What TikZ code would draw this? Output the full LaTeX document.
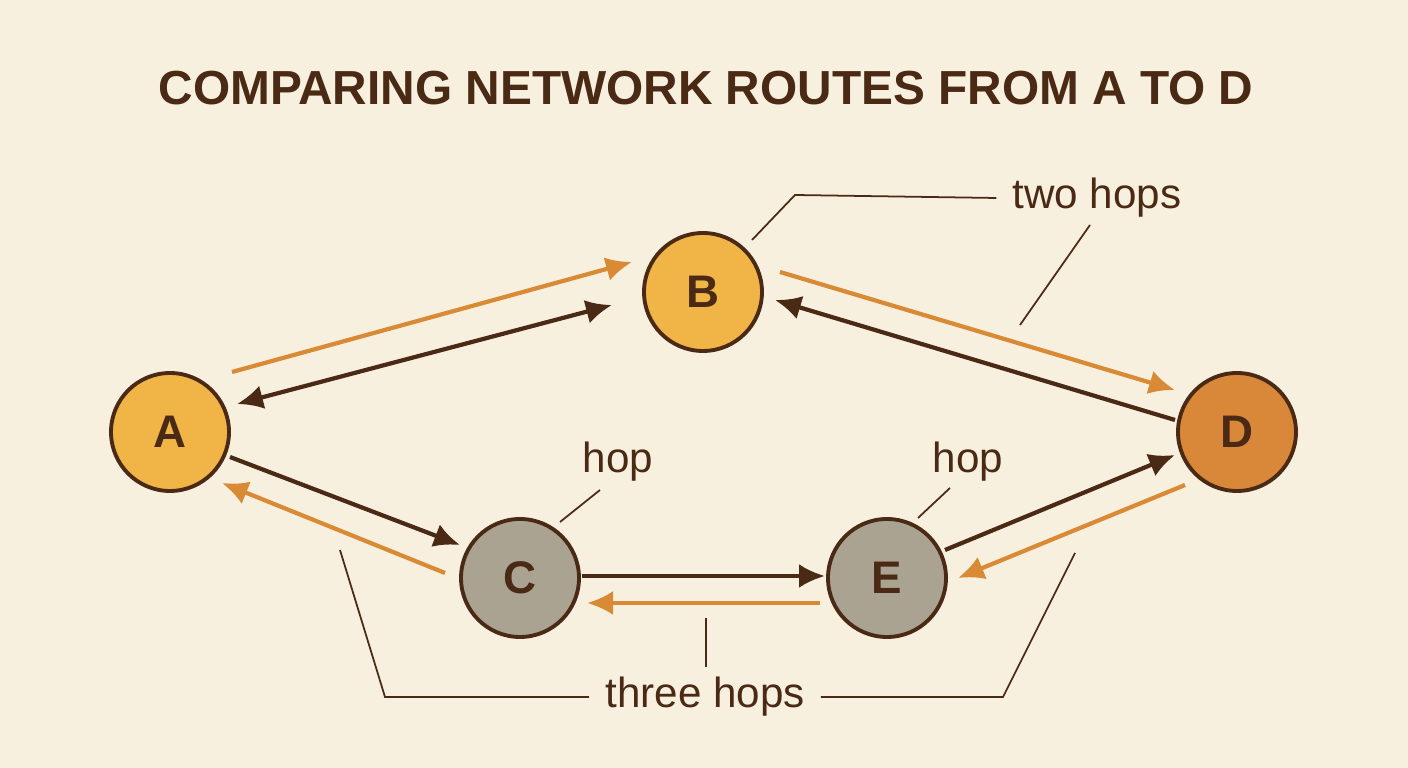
\documentclass[tikz,border=0pt]{standalone}
\usepackage{fontspec}
\setmainfont{Liberation Sans}
\usetikzlibrary{arrows.meta}
\definecolor{bg}{HTML}{F8F0DF}
\definecolor{ink}{HTML}{4A2A14}
\definecolor{route}{HTML}{D98A35}
\definecolor{gold}{HTML}{F0B447}
\definecolor{rust}{HTML}{D9883A}
\definecolor{stone}{HTML}{ABA391}
\tikzset{
  host/.style={circle, draw=ink, line width=1.1pt, minimum size=1.18cm, inner sep=0pt, font=\bfseries\fontsize{13}{13}\selectfont, text=ink},
  fwd/.style={-{Latex[length=2.6mm,width=2.4mm]}, line width=1.2pt, route},
  back/.style={-{Latex[length=2.6mm,width=2.4mm]}, line width=1.2pt, ink},
  call/.style={ink, line width=0.5pt},
  lbl/.style={text=ink, font=\fontsize{12}{12}\selectfont, inner sep=1pt}
}
\begin{document}
\begin{tikzpicture}
  \fill[bg] (0,0) rectangle (14.08,7.68);
  \useasboundingbox (0,0) rectangle (14.08,7.68);
  \node[text=ink, font=\bfseries\fontsize{13.6}{13.6}\selectfont] (title) at (7.06,6.80) {COMPARING NETWORK ROUTES FROM A TO D};
  % hosts
  \node[host, fill=gold] (A) at (1.70,3.36) {A};
  \node[host, fill=gold] (B) at (7.03,4.76) {B};
  \node[host, fill=rust] (D) at (12.37,3.36) {D};
  \node[host, fill=stone] (C) at (5.20,1.90) {C};
  \node[host, fill=stone] (E) at (8.87,1.90) {E};
  % upper route
  \draw[fwd] ([shift={(0.62,0.60)}]A.center) -- ([shift={(-0.71,0.30)}]B.center);
  \draw[back, {Latex[length=2.6mm,width=2.4mm]}-{Latex[length=2.6mm,width=2.4mm]}] ([shift={(0.67,0.28)}]A.center) -- ([shift={(-0.91,-0.13)}]B.center);
  \draw[fwd] ([shift={(0.77,0.20)}]B.center) -- ([shift={(-0.62,0.42)}]D.center);
  \draw[back] ([shift={(-0.62,0.12)}]D.center) -- ([shift={(0.72,-0.08)}]B.center);
  % lower route
  \draw[back] ([shift={(0.60,-0.25)}]A.center) -- ([shift={(-0.60,0.33)}]C.center);
  \draw[fwd] ([shift={(-0.75,0.05)}]C.center) -- ([shift={(0.52,-0.51)}]A.center);
  \draw[back] ([shift={(0.62,0.02)}]C.center) -- ([shift={(-0.62,0.02)}]E.center);
  \draw[fwd] ([shift={(-0.67,-0.25)}]E.center) -- ([shift={(0.67,-0.25)}]C.center);
  \draw[back] ([shift={(0.58,0.28)}]E.center) -- ([shift={(-0.62,-0.23)}]D.center);
  \draw[fwd] ([shift={(-0.52,-0.53)}]D.center) -- ([shift={(0.71,0.00)}]E.center);
  % callouts
  \node[lbl] (two) at (10.97,5.70) {two hops};
  \draw[call] ([shift={(0.49,0.52)}]B.center) -- (7.95,5.73) -- ([xshift=-0.12cm]two.west);
  \draw[call] (10.90,5.43) -- (10.20,4.43);
  \node[lbl] (hopC) at (6.18,3.06) {hop};
  \draw[call] (5.60,2.46) -- (6.00,2.78);
  \node[lbl] (hopE) at (9.68,3.06) {hop};
  \draw[call] (9.18,2.50) -- (9.50,2.80);
  \node[lbl] (three) at (7.05,0.71) {three hops};
  \draw[call] (3.40,2.18) -- (3.85,0.71) -- ([xshift=-0.12cm]three.west);
  \draw[call] ([xshift=0.12cm]three.east) -- (10.03,0.71) -- (10.75,2.15);
  \draw[call] (7.06,1.50) -- (7.06,1.01);
\end{tikzpicture}
\end{document}
